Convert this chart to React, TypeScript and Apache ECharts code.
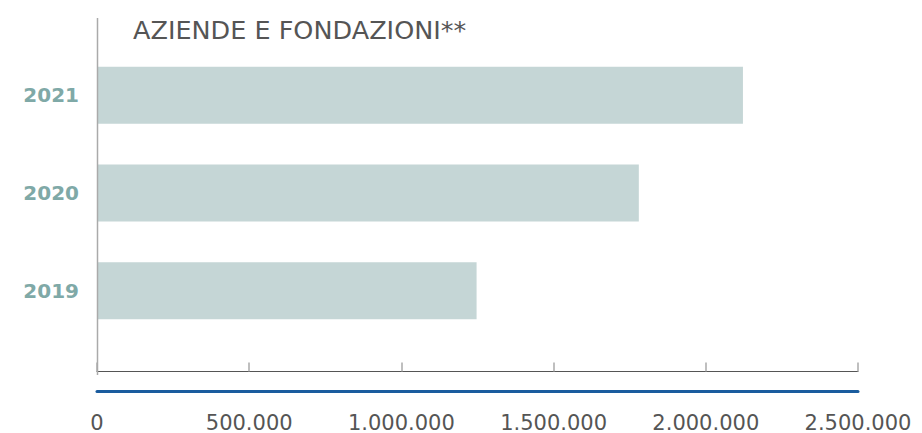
import React, { useEffect, useRef } from "react";
import * as echarts from "echarts";

const categories = ["2019", "2020", "2021"];
const values = [1247000, 1780000, 2122000];
const titleText = "AZIENDE E FONDAZIONI**";
const axisMin = 0;
const axisMax = 2500000;
const axisInterval = 500000;

const fmt = (v: number) => String(v).replace(/\B(?=(\d{3})+(?!\d))/g, ".");

export default function App() {
  const ref = useRef<HTMLDivElement>(null);
  useEffect(() => {
    if (!ref.current) return;
    const chart = echarts.init(ref.current, undefined, { renderer: "svg" });
    const font = "DejaVu Sans";
    chart.setOption({
      animation: false,
      backgroundColor: "#ffffff",
      title: {
        text: titleText,
        left: 128,
        top: 12,
        textStyle: { fontFamily: font, fontSize: 25.5, fontWeight: "normal", color: "#555555" },
      },
      grid: { left: 97, right: 64, top: 46.5, bottom: 90, containLabel: false },
      xAxis: [
        {
          type: "value",
          position: "bottom",
          min: axisMin,
          max: axisMax,
          interval: axisInterval,
          offset: 32,
          axisLine: { show: true, lineStyle: { color: "#555555", width: 1.2 } },
          axisTick: { show: true, inside: true, length: 9, lineStyle: { color: "#aaaaaa", width: 1.5 } },
          axisLabel: { show: false },
          splitLine: { show: false },
        },
        {
          type: "value",
          position: "bottom",
          min: axisMin,
          max: axisMax,
          interval: axisInterval,
          offset: 51.5,
          axisLine: { show: true, lineStyle: { color: "#1a5c9e", width: 3 } },
          axisTick: { show: false },
          axisLabel: {
            show: true,
            margin: 21,
            fontFamily: font,
            fontSize: 21,
            color: "#555555",
            formatter: (v: number) => fmt(v),
          },
          splitLine: { show: false },
        },
      ],
      yAxis: {
        type: "category",
        data: categories,
        axisLine: { show: false },
        axisTick: { show: false },
        axisLabel: {
          margin: 18,
          fontFamily: font,
          fontSize: 20,
          fontWeight: "bold",
          color: "#7fa9a7",
        },
      },
      graphic: [
        {
          type: "line",
          shape: { x1: 97.5, y1: 18, x2: 97.5, y2: 375 },
          style: { stroke: "#aaaaaa", lineWidth: 1.5 },
          z: 10,
        },
      ],
      series: [
        {
          type: "bar",
          xAxisIndex: 0,
          data: values,
          barWidth: 57,
          itemStyle: { color: "#c5d6d6" },
        },
      ],
    });
    return () => chart.dispose();
  }, []);
  return (
    <div
      ref={ref}
      style={{ position: "fixed", left: 0, top: 0, width: 922, height: 433 }}
    />
  );
}
